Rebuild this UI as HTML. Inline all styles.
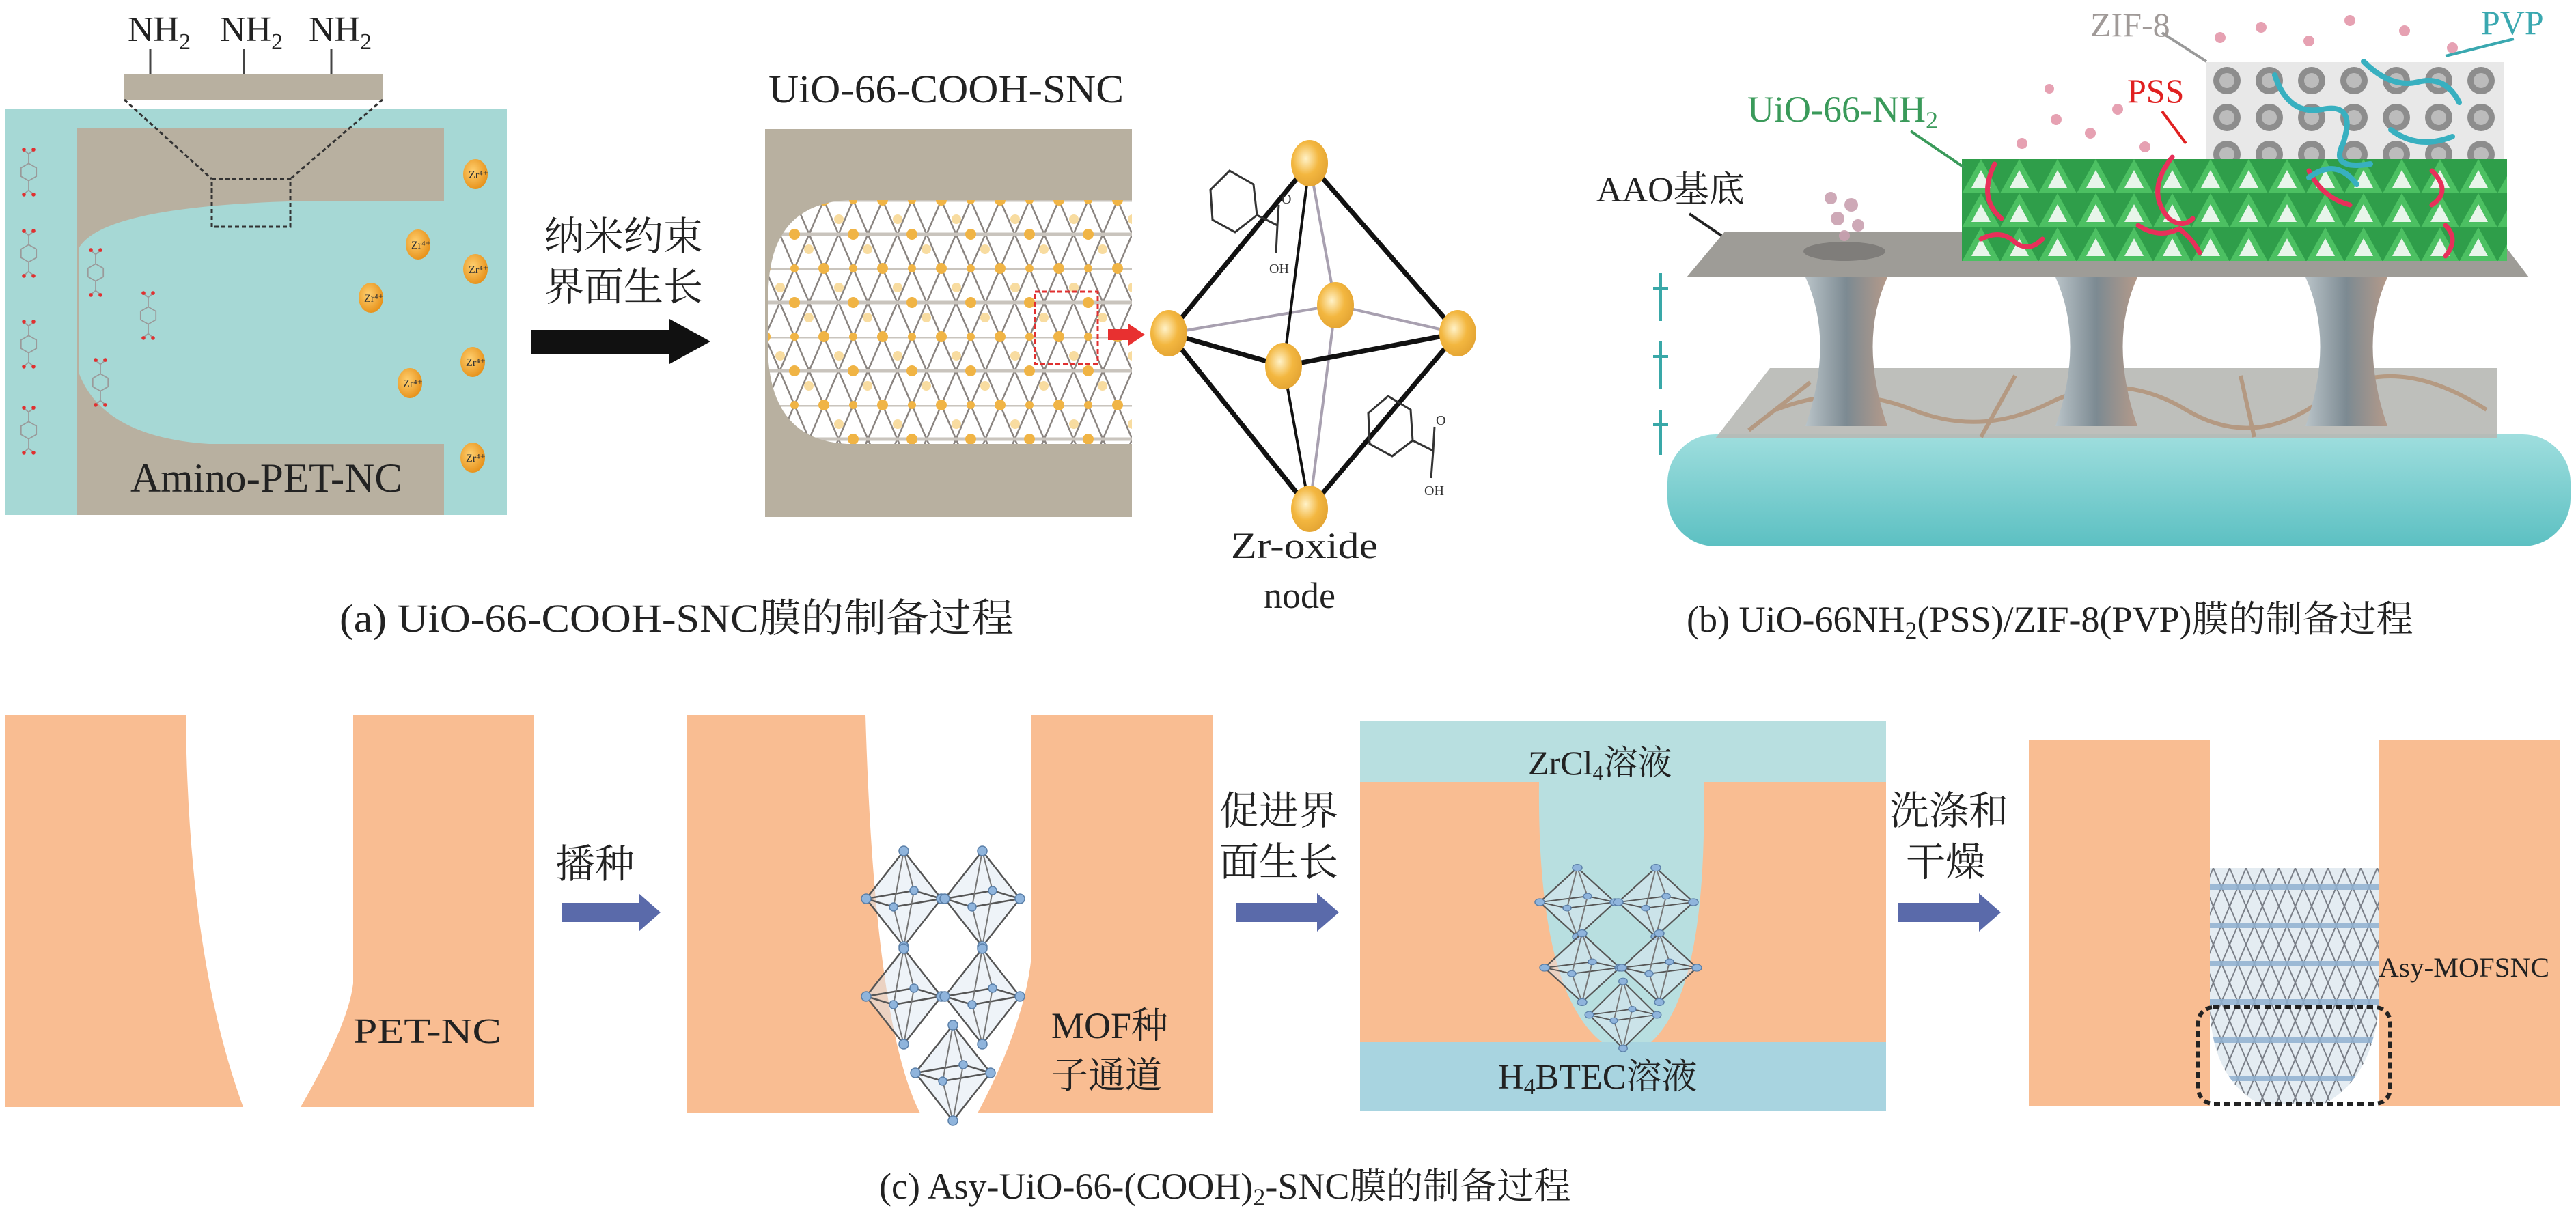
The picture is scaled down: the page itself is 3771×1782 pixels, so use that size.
<!DOCTYPE html>
<html><head><meta charset="utf-8"><style>
html,body{margin:0;padding:0;background:#fff}
svg{display:block}
text{font-family:"Liberation Serif","Noto Serif CJK SC","Noto Sans CJK SC",serif}
</style></head><body>
<svg width="3771" height="1782" viewBox="0 0 3771 1782" xmlns="http://www.w3.org/2000/svg">
<defs>
<pattern id="lat" x="1120" y="293" width="86" height="100" patternUnits="userSpaceOnUse">
<rect width="86" height="100" fill="#fff"/>
<g stroke="#8a8480" stroke-width="2.5">
<line x1="0" y1="0" x2="43" y2="100"/><line x1="43" y1="0" x2="0" y2="100"/>
<line x1="43" y1="0" x2="86" y2="100"/><line x1="86" y1="0" x2="43" y2="100"/>
<line x1="0" y1="50" x2="86" y2="50" stroke="#c9c4bd" stroke-width="5"/>
<line x1="0" y1="0" x2="86" y2="0" stroke="#c9c4bd" stroke-width="5"/>
</g>
<g fill="#f0b445">
<circle cx="0" cy="0" r="8"/><circle cx="86" cy="0" r="8"/><circle cx="0" cy="100" r="8"/><circle cx="86" cy="100" r="8"/>
<circle cx="43" cy="50" r="8"/><circle cx="43" cy="0" r="6"/><circle cx="43" cy="100" r="6"/>
<circle cx="22" cy="28" r="7" fill="#f8dca0"/><circle cx="64" cy="72" r="7" fill="#f8dca0"/>
</g>
</pattern>
<pattern id="lat2" x="3240" y="1271" width="48" height="56" patternUnits="userSpaceOnUse">
<rect width="48" height="56" fill="#e4ecf2"/>
<g stroke="#7a7f88" stroke-width="2">
<line x1="0" y1="0" x2="24" y2="56"/><line x1="24" y1="0" x2="0" y2="56"/>
<line x1="24" y1="0" x2="48" y2="56"/><line x1="48" y1="0" x2="24" y2="56"/>
</g>
<rect x="0" y="24" width="48" height="8" fill="#8fb0d0" opacity="0.85"/>
</pattern>
<pattern id="grn" x="2872" y="233" width="56" height="50" patternUnits="userSpaceOnUse">
<rect width="56" height="50" fill="#2f9e4a"/>
<path d="M0 50 L28 0 L56 50Z" fill="#4cc062"/>
<path d="M14 42 L28 16 L42 42Z" fill="#e8f5ea"/>
</pattern>
<pattern id="zif" x="3229" y="91" width="62" height="54" patternUnits="userSpaceOnUse">
<rect width="62" height="54" fill="#e8e8e8"/>
<circle cx="31" cy="27" r="20" fill="#8d8d8d"/>
<circle cx="31" cy="27" r="11" fill="#bcbcbc"/>
</pattern>
<linearGradient id="wat" x1="0" y1="0" x2="0" y2="1"><stop offset="0" stop-color="#9fdede"/><stop offset="1" stop-color="#5cc0c2"/></linearGradient>
<linearGradient id="pil" x1="0" y1="0" x2="1" y2="0"><stop offset="0" stop-color="#b9c3c8"/><stop offset="0.5" stop-color="#7c8a92"/><stop offset="1" stop-color="#b49a8a"/></linearGradient>
<radialGradient id="zr" cx="0.4" cy="0.4" r="0.7"><stop offset="0" stop-color="#fff2c8"/><stop offset="0.5" stop-color="#f3b740"/><stop offset="1" stop-color="#e0a030"/></radialGradient>
<radialGradient id="zrp" cx="0.4" cy="0.4" r="0.7"><stop offset="0" stop-color="#ffd070"/><stop offset="1" stop-color="#e48a10"/></radialGradient>
<g id="oct">
<path d="M0 -70 L-55 0 L0 70 L55 0 Z" fill="#dde8f2" fill-opacity="0.5" stroke="#555" stroke-width="2.5"/>
<path d="M-55 0 L-15 12 L55 0 L15 -12Z" fill="none" stroke="#555" stroke-width="2.5"/>
<path d="M0 -70 L-15 12 L0 70 M0 -70 L15 -12 L0 70" fill="none" stroke="#777" stroke-width="2"/>
<g fill="#8fb4dc" stroke="#5a7fa8" stroke-width="1.5"><circle cx="0" cy="-70" r="7"/><circle cx="0" cy="70" r="7"/><circle cx="-55" cy="0" r="7"/><circle cx="55" cy="0" r="7"/><circle cx="-15" cy="12" r="6"/><circle cx="15" cy="-12" r="6"/></g>
</g>
<g id="mol" fill="none" stroke="#9a9a9a" stroke-width="2.5">
<path d="M0 -18 L16 -9 L16 9 L0 18 L-16 9 L-16 -9Z"/>
<path d="M0 -18 L0 -38 M0 18 L0 38 M0 -38 L-10 -46 M0 -38 L10 -46 M0 38 L-10 46 M0 38 L10 46"/>
<g fill="#e03030" stroke="none"><circle cx="-10" cy="-47" r="4"/><circle cx="10" cy="-47" r="4"/><circle cx="-10" cy="47" r="4"/><circle cx="10" cy="47" r="4"/></g>
</g>
</defs>

<!-- ===== Panel (a) ===== -->
<g font-size="52" fill="#222">
<text x="187" y="60">NH<tspan font-size="34" dy="12">2</tspan></text>
<text x="322" y="60">NH<tspan font-size="34" dy="12">2</tspan></text>
<text x="452" y="60">NH<tspan font-size="34" dy="12">2</tspan></text>
</g>
<g stroke="#444" stroke-width="3"><line x1="220" y1="72" x2="220" y2="109"/><line x1="357" y1="72" x2="357" y2="109"/><line x1="485" y1="72" x2="485" y2="109"/></g>
<rect x="182" y="109" width="378" height="37" fill="#b8b0a0"/>
<rect x="8" y="159" width="734" height="595" fill="#a6d8d5"/>
<path d="M113 188 H650 V294 H459 Q150 300 115 364 V545 Q150 640 306 650 H650 V754 H113 Z" fill="#b8b0a0"/>
<rect x="8" y="159" width="105" height="595" fill="#a6d8d5" opacity="0.6"/>
<g stroke="#333" stroke-width="3" stroke-dasharray="6,4" fill="none">
<line x1="182" y1="146" x2="310" y2="262"/><line x1="560" y1="146" x2="425" y2="262"/>
<rect x="310" y="262" width="115" height="70"/>
</g>
<g transform="scale(0.7)">
<use href="#mol" x="60" y="360"/><use href="#mol" x="60" y="530"/><use href="#mol" x="60" y="720"/><use href="#mol" x="60" y="900"/>
<use href="#mol" x="200" y="570"/><use href="#mol" x="210" y="800"/><use href="#mol" x="310" y="660"/>
</g>
<g>
<ellipse cx="696" cy="255" rx="18" ry="22" fill="url(#zrp)"/><ellipse cx="612" cy="358" rx="18" ry="22" fill="url(#zrp)"/>
<ellipse cx="696" cy="394" rx="18" ry="22" fill="url(#zrp)"/><ellipse cx="543" cy="436" rx="18" ry="22" fill="url(#zrp)"/>
<ellipse cx="692" cy="530" rx="18" ry="22" fill="url(#zrp)"/><ellipse cx="600" cy="561" rx="18" ry="22" fill="url(#zrp)"/>
<ellipse cx="692" cy="670" rx="18" ry="22" fill="url(#zrp)"/>
</g>
<g font-size="16" fill="#333"><text x="686" y="261">Zr⁴⁺</text><text x="602" y="364">Zr⁴⁺</text><text x="686" y="400">Zr⁴⁺</text><text x="533" y="442">Zr⁴⁺</text><text x="682" y="536">Zr⁴⁺</text><text x="590" y="567">Zr⁴⁺</text><text x="682" y="676">Zr⁴⁺</text></g>
<text x="191" y="720" font-size="60" fill="#222" textLength="398" lengthAdjust="spacingAndGlyphs">Amino-PET-NC</text>

<text x="797" y="366" font-size="58" fill="#222">纳米约束</text>
<text x="797" y="440" font-size="58" fill="#222">界面生长</text>
<path d="M777 483 H980 V467 L1040 500 L980 533 V518 H777Z" fill="#111"/>

<text x="1125" y="150" font-size="58" fill="#222" textLength="520" lengthAdjust="spacingAndGlyphs">UiO-66-COOH-SNC</text>
<rect x="1120" y="189" width="537" height="568" fill="#b8b0a0"/>
<path d="M1657 293 H1240 Q1130 300 1125 420 V530 Q1135 645 1240 650 H1657Z" fill="url(#lat)"/>
<rect x="1515" y="427" width="92" height="106" fill="none" stroke="#e03030" stroke-width="3" stroke-dasharray="7,4"/>
<path d="M1622 482 H1652 V474 L1676 490 L1652 506 V498 H1622Z" fill="#e83030"/>

<!-- octahedron -->
<g stroke-linecap="round">
<g stroke="#a8a0b0" stroke-width="4"><line x1="1711" y1="488" x2="1955" y2="447"/><line x1="1955" y1="447" x2="2134" y2="488"/><line x1="1917" y1="239" x2="1955" y2="447"/><line x1="1955" y1="447" x2="1917" y2="745"/></g>
<g stroke="#111" stroke-width="7"><line x1="1917" y1="239" x2="1711" y2="488"/><line x1="1917" y1="239" x2="2134" y2="488"/><line x1="1711" y1="488" x2="1917" y2="745"/><line x1="2134" y1="488" x2="1917" y2="745"/><line x1="1711" y1="488" x2="1879" y2="536"/><line x1="1879" y1="536" x2="2134" y2="488"/></g>
<g stroke="#111" stroke-width="4"><line x1="1917" y1="239" x2="1879" y2="536"/><line x1="1879" y1="536" x2="1917" y2="745"/></g>
</g>
<g fill="none" stroke="#333" stroke-width="3">
<path d="M1800 250 L1835 270 L1840 315 L1808 340 L1775 322 L1772 278Z"/><path d="M1840 315 L1870 330 L1872 300 M1870 330 L1868 370"/>
<path d="M2032 580 L2065 600 L2068 645 L2038 668 L2005 650 L2003 605Z"/><path d="M2068 645 L2098 660 L2100 625 M2098 660 L2095 700"/>
</g>
<g font-size="20" fill="#333"><text x="1858" y="400">OH</text><text x="2085" y="725">OH</text><text x="1876" y="298">O</text><text x="2102" y="622">O</text></g>
<g>
<ellipse cx="1917" cy="239" rx="27" ry="34" fill="url(#zr)"/><ellipse cx="1711" cy="488" rx="27" ry="34" fill="url(#zr)"/>
<ellipse cx="2134" cy="488" rx="27" ry="34" fill="url(#zr)"/><ellipse cx="1917" cy="745" rx="27" ry="34" fill="url(#zr)"/>
<ellipse cx="1879" cy="536" rx="27" ry="34" fill="url(#zr)"/><ellipse cx="1955" cy="447" rx="27" ry="34" fill="url(#zr)"/>
</g>
<text x="1802" y="817" font-size="54" fill="#222" textLength="215" lengthAdjust="spacingAndGlyphs">Zr-oxide</text>
<text x="1850" y="890" font-size="54" fill="#222">node</text>
<text x="497" y="925" font-size="58" fill="#222" textLength="987" lengthAdjust="spacingAndGlyphs">(a) UiO-66-COOH-SNC膜的制备过程</text>

<!-- ===== Panel (b) ===== -->
<rect x="2441" y="636" width="1322" height="164" rx="70" fill="url(#wat)"/>
<path d="M2591 539 H3655 V642 H2511Z" fill="#b7b8b4" opacity="0.9"/>
<g stroke="#b08a6a" stroke-width="6" fill="none" opacity="0.7"><path d="M2600 600 Q2700 560 2800 600 T3000 590 T3200 600 T3400 585 T3640 600"/><path d="M2560 630 L2650 560 M2900 640 L2950 550 M3300 640 L3280 550"/></g>
<path d="M2525 339 H3651 L3702 406 H2469Z" fill="#9e9c97"/>
<g fill="url(#pil)">
<path d="M2643 406 H2763 Q2720 500 2763 624 H2643 Q2686 500 2643 406Z"/>
<path d="M3009 406 H3129 Q3086 500 3129 624 H3009 Q3052 500 3009 406Z"/>
<path d="M3375 406 H3495 Q3452 500 3495 624 H3375 Q3418 500 3375 406Z"/>
</g>
<ellipse cx="2700" cy="368" rx="60" ry="14" fill="#7f7d7a"/>
<g fill="#c9a0b0" opacity="0.9"><circle cx="2690" cy="320" r="10"/><circle cx="2710" cy="300" r="10"/><circle cx="2680" cy="290" r="9"/><circle cx="2720" cy="330" r="9"/><circle cx="2700" cy="345" r="8"/></g>
<rect x="2872" y="233" width="798" height="149" fill="url(#grn)"/>
<rect x="3229" y="91" width="436" height="142" fill="url(#zif)"/>
<g stroke="#e8305a" stroke-width="7" fill="none" stroke-linecap="round">
<path d="M2920 240 Q2895 290 2930 320"/><path d="M3180 230 Q3140 280 3175 320 Q3195 335 3210 320"/><path d="M2900 350 Q2930 335 2950 355 Q2970 370 2990 350"/><path d="M3130 330 Q3160 350 3190 335 Q3210 350 3220 370"/><path d="M3380 250 Q3400 290 3440 300"/><path d="M3560 250 Q3590 280 3560 300"/><path d="M3580 330 Q3600 350 3580 375"/>
</g>
<g stroke="#38b0c0" stroke-width="8" fill="none" stroke-linecap="round">
<path d="M3330 110 Q3350 170 3400 160 Q3450 150 3430 210 Q3410 250 3470 240"/><path d="M3460 90 Q3500 130 3540 120 Q3580 110 3600 150"/><path d="M3500 190 Q3540 220 3590 200"/><path d="M3380 260 Q3420 230 3450 270"/>
</g>
<g fill="#e08aa0" opacity="0.8"><circle cx="2960" cy="210" r="8"/><circle cx="3010" cy="175" r="8"/><circle cx="3060" cy="195" r="8"/><circle cx="3100" cy="160" r="8"/><circle cx="3140" cy="215" r="8"/><circle cx="3250" cy="55" r="8"/><circle cx="3310" cy="40" r="8"/><circle cx="3380" cy="60" r="8"/><circle cx="3440" cy="30" r="8"/><circle cx="3520" cy="45" r="8"/><circle cx="3590" cy="70" r="8"/><circle cx="3000" cy="130" r="7"/></g>
<g fill="#39a8a8"><rect x="2429" y="400" width="4" height="70"/><rect x="2420" y="420" width="22" height="4"/><rect x="2429" y="500" width="4" height="70"/><rect x="2420" y="520" width="22" height="4"/><rect x="2429" y="600" width="4" height="66"/><rect x="2420" y="620" width="22" height="4"/></g>
<g stroke-width="4"><line x1="2473" y1="313" x2="2520" y2="345" stroke="#222"/><line x1="2797" y1="192" x2="2875" y2="245" stroke="#3a9a5a"/><line x1="3165" y1="163" x2="3200" y2="210" stroke="#e02020"/><line x1="3165" y1="48" x2="3230" y2="90" stroke="#999"/><line x1="3680" y1="57" x2="3580" y2="82" stroke="#3aa8b0"/></g>
<text x="2337" y="295" font-size="52" fill="#222">AAO基底</text>
<text x="2558" y="178" font-size="54" fill="#3a9a5a">UiO-66-NH<tspan font-size="36" dy="10">2</tspan></text>
<text x="3114" y="150" font-size="50" fill="#e02020">PSS</text>
<text x="3060" y="53" font-size="50" fill="#a09a98">ZIF-8</text>
<text x="3632" y="50" font-size="50" fill="#3aa8b0">PVP</text>
<text x="2469" y="925" font-size="54" fill="#222">(b) UiO-66NH<tspan font-size="36" dy="10">2</tspan><tspan dy="-10">(PSS)/ZIF-8(PVP)膜的制备过程</tspan></text>

<!-- ===== Panel (c) ===== -->
<g fill="#f9bd92">
<path d="M7 1047 H272 Q275 1400 356 1621 H7Z"/>
<path d="M517 1047 H782 V1621 H440 Q510 1500 517 1440Z"/>
<path d="M1005 1047 H1267 Q1280 1500 1347 1630 H1005Z"/>
<path d="M1510 1047 H1775 V1630 H1431 Q1500 1500 1510 1400Z"/>
</g>
<text x="517" y="1527" font-size="52" fill="#222" textLength="217" lengthAdjust="spacingAndGlyphs">PET-NC</text>
<text x="813" y="1285" font-size="58" fill="#222">播种</text>
<path d="M823 1322 H935 V1308 L967 1336 L935 1364 V1350 H823Z" fill="#5a6aaa"/>
<use href="#oct" x="1323" y="1316"/><use href="#oct" x="1438" y="1316"/><use href="#oct" x="1323" y="1459"/><use href="#oct" x="1438" y="1459"/><use href="#oct" x="1395" y="1571"/>
<text x="1539" y="1520" font-size="54" fill="#222">MOF种</text>
<text x="1539" y="1593" font-size="54" fill="#222">子通道</text>
<text x="1785" y="1207" font-size="58" fill="#222">促进界</text>
<text x="1785" y="1282" font-size="58" fill="#222">面生长</text>
<path d="M1809 1322 H1928 V1308 L1960 1336 L1928 1364 V1350 H1809Z" fill="#5a6aaa"/>

<rect x="1991" y="1056" width="770" height="571" fill="#b8dfe0"/>
<rect x="1991" y="1526" width="770" height="101" fill="#a8d4e0"/>
<path d="M1991 1145 H2253 Q2250 1450 2345 1526 H1991Z M2494 1145 H2761 V1526 H2417 Q2500 1450 2494 1145Z" fill="#f9bd92"/>
<use href="#oct" transform="translate(2309,1321) scale(1,0.72)"/><use href="#oct" transform="translate(2424,1321) scale(1,0.72)"/><use href="#oct" transform="translate(2316,1417) scale(1,0.72)"/><use href="#oct" transform="translate(2429,1417) scale(1,0.72)"/><use href="#oct" transform="translate(2376,1486) scale(0.9,0.7)"/>
<text x="2237" y="1134" font-size="50" fill="#222">ZrCl<tspan font-size="32" dy="8">4</tspan><tspan dy="-8">溶液</tspan></text>
<text x="2193" y="1594" font-size="52" fill="#222">H<tspan font-size="34" dy="8">4</tspan><tspan dy="-8">BTEC溶液</tspan></text>
<text x="2766" y="1207" font-size="58" fill="#222">洗涤和</text>
<text x="2790" y="1282" font-size="58" fill="#222">干燥</text>
<path d="M2778 1322 H2897 V1308 L2929 1336 L2897 1364 V1350 H2778Z" fill="#5a6aaa"/>

<g fill="#f9bd92"><rect x="2970" y="1083" width="265" height="537"/><rect x="3482" y="1083" width="265" height="537"/></g>
<path d="M3235 1271 H3482 V1480 Q3470 1580 3403 1616 H3307 Q3240 1580 3235 1480Z" fill="url(#lat2)"/>
<rect x="3218" y="1475" width="281" height="141" rx="22" fill="none" stroke="#222" stroke-width="6" stroke-dasharray="9,6"/>
<text x="3482" y="1430" font-size="40" fill="#222" textLength="250" lengthAdjust="spacingAndGlyphs">Asy-MOFSNC</text>
<text x="1287" y="1755" font-size="54" fill="#222">(c) Asy-UiO-66-(COOH)<tspan font-size="36" dy="10">2</tspan><tspan dy="-10">-SNC膜的制备过程</tspan></text>
</svg>
</body></html>
